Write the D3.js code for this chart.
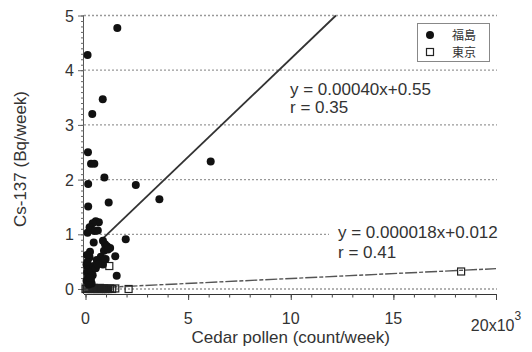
<!DOCTYPE html>
<html><head><meta charset="utf-8">
<script src="https://cdn.jsdelivr.net/npm/d3@7"></script>
<style>html,body{margin:0;padding:0;background:#fff;}svg{display:block;}</style>
</head><body>
<svg id="chart" width="532" height="352"></svg>
<script>
// ---- data (x in thousands of counts/week, y in Bq/week) ----
const fukX = [1.55,0.10,0.84,0.33,0.12,0.27,0.43,0.92,0.13,2.45,3.60,6.10,1.13,0.13,
  0.50,0.65,0.35,0.20,0.25,0.45,0.60,0.10,
  1.96,0.40,0.85,0.95,1.05,1.20,0.90,1.10,
  0.22,0.20,0.75,1.45,0.67,1.52,0.55,0.85,0.98,
  0.05,0.10,0.15,0.08,0.20,0.12,0.30,0.25,0.05,0.18,0.40,0.35,0.50,0.10,0.60,0.30,0.15,0.07,0.22];
const fukY = [4.77,4.28,3.47,3.20,2.50,2.29,2.29,2.04,1.92,1.90,1.64,2.33,1.58,1.51,
  1.24,1.22,1.20,1.13,1.08,1.06,1.07,1.03,
  0.91,0.85,0.88,0.82,0.78,0.75,0.70,0.72,
  0.68,0.58,0.59,0.60,0.50,0.24,0.53,0.45,0.55,
  0.45,0.40,0.35,0.30,0.28,0.22,0.32,0.18,0.15,0.12,0.42,0.25,0.38,0.50,0.45,0.10,0.08,0.62,0.20];
const tokX = [0.00,0.05,0.10,0.15,0.20,0.25,0.30,0.35,0.40,0.45,0.50,0.55,0.60,0.65,0.70,
  0.75,0.80,0.85,0.90,0.95,1.00,1.05,1.10,1.20,1.30,1.45,2.10,1.16,18.3,0.25];
const tokY = [0.00,0.01,0.00,0.02,0.01,0.00,0.01,0.00,0.02,0.00,0.01,0.00,0.01,0.00,0.02,
  0.00,0.01,0.00,0.01,0.00,0.00,0.01,0.00,0.01,0.00,0.01,0.00,0.42,0.32,0.21];
const fukFitX = [0.7, 12.2];
const fukFitY = [0.87, 5.0];
const tokFitX = [0, 20];
const tokFitY = [0.012, 0.372];
const xTicks = [0, 5, 10, 15, 20];
const xTickLabels = ["0", "5", "10", "15", "20x10"];
const yTicks = [0, 1, 2, 3, 4, 5];
const legendLabels = ["福島", "東京"];
const eqFuk = ["y = 0.00040x+0.55", "r = 0.35"];
const eqTok = ["y = 0.000018x+0.012", "r = 0.41"];

// ---- drawing ----
const svg = d3.select("#chart");
const font = "'Liberation Sans', Arial, sans-serif";
const x = d3.scaleLinear().domain([0, 20]).range([85.5, 496]);
const y = d3.scaleLinear().domain([0, 5]).range([289, 15.5]);
const axisY = 294, axisX = 84;

// gridlines
svg.append("g").selectAll("line").data(yTicks).join("line")
  .attr("x1", axisX).attr("x2", 497)
  .attr("y1", d => y(d)).attr("y2", d => y(d))
  .attr("stroke", "#999").attr("stroke-width", 1.3).attr("stroke-dasharray", "2,2");

// white box behind lower equation
svg.append("rect").attr("x", 329).attr("y", 222).attr("width", 172).attr("height", 40).attr("fill", "#fff");

// x axis
const gx = svg.append("g").attr("transform", `translate(0,${axisY})`);
gx.call(d3.axisBottom(x).tickValues(d3.range(0, 21, 1)).tickSize(3.5).tickFormat(""))
  .call(g => g.select(".domain").attr("d", `M${axisX},0.5H${x(20)}`));
gx.append("g").call(d3.axisBottom(x).tickValues(xTicks).tickSize(6).tickFormat(""))
  .call(g => g.select(".domain").remove());
gx.selectAll("path.domain").attr("stroke", "#333");
gx.selectAll("line").attr("stroke", "#444");

// x tick labels
const xl = svg.append("g").selectAll("text").data(xTicks).join("text")
  .attr("x", d => x(d)).attr("y", (d, i) => i === xTicks.length - 1 ? 331 : 324)
  .attr("text-anchor", "middle").attr("font-family", font).attr("font-size", 16).attr("fill", "#333")
  .text((d, i) => xTickLabels[i]);
xl.filter((d, i) => i === xTicks.length - 1).append("tspan")
  .attr("dy", -11).attr("font-size", 12).text("3");

// y axis
const gy = svg.append("g").attr("transform", `translate(${axisX},0)`);
gy.call(d3.axisLeft(y).tickValues(d3.range(0, 51).map(v => v / 10)).tickSize(3).tickFormat(""))
  .call(g => g.select(".domain").attr("d", `M-0.5,${y(5)}V${axisY}`));
gy.append("g").call(d3.axisLeft(y).tickValues(yTicks).tickSize(6).tickFormat(""))
  .call(g => g.select(".domain").remove());
gy.selectAll("path.domain").attr("stroke", "#555");
gy.selectAll("line").attr("stroke", "#666");
svg.append("g").selectAll("text").data(yTicks).join("text")
  .attr("x", 74).attr("y", d => y(d) + 6)
  .attr("text-anchor", "end").attr("font-family", font).attr("font-size", 16).attr("fill", "#333")
  .text(d => d);

// axis titles
svg.append("text").attr("x", x(10)).attr("y", 343).attr("text-anchor", "middle")
  .attr("font-family", font).attr("font-size", 17).attr("fill", "#333")
  .text("Cedar pollen (count/week)");
svg.append("text").attr("transform", "translate(26,159) rotate(-90)").attr("text-anchor", "middle")
  .attr("font-family", font).attr("font-size", 17).attr("fill", "#333")
  .text("Cs-137 (Bq/week)");

// fit lines
const line = d3.line().x(d => x(d[0])).y(d => y(d[1]));
svg.append("path").datum(tokFitX.map((v, i) => [v, tokFitY[i]])).attr("d", line)
  .attr("fill", "none").attr("stroke", "#555").attr("stroke-width", 1.4).attr("stroke-dasharray", "12,2,4,2");
svg.append("path").datum(fukFitX.map((v, i) => [v, fukFitY[i]])).attr("d", line)
  .attr("fill", "none").attr("stroke", "#333").attr("stroke-width", 1.8);

// Tokyo open squares
svg.append("g").selectAll("rect").data(tokX.map((v, i) => [v, tokY[i]])).join("rect")
  .attr("x", d => x(d[0]) - 3.5).attr("y", d => y(d[1]) - 3.5)
  .attr("width", 7).attr("height", 7)
  .attr("fill", "none").attr("stroke", "#222").attr("stroke-width", 1.2);

// Fukushima filled circles
svg.append("g").selectAll("circle").data(fukX.map((v, i) => [v, fukY[i]])).join("circle")
  .attr("cx", d => x(d[0])).attr("cy", d => y(d[1])).attr("r", 4).attr("fill", "#111");

// equations
svg.append("g").selectAll("text").data(eqFuk).join("text")
  .attr("x", 290).attr("y", (d, i) => 95 + i * 18)
  .attr("font-family", font).attr("font-size", 17).attr("fill", "#333").text(d => d);
svg.append("g").selectAll("text").data(eqTok).join("text")
  .attr("x", 338).attr("y", (d, i) => 238 + i * 20)
  .attr("font-family", font).attr("font-size", 17).attr("fill", "#333").text(d => d);

// legend
const lg = svg.append("g");
lg.append("rect").attr("x", 417.5).attr("y", 23.5).attr("width", 72).attr("height", 38)
  .attr("fill", "#fff").attr("stroke", "#888").attr("stroke-width", 1);
lg.append("circle").attr("cx", 430).attr("cy", 35).attr("r", 4).attr("fill", "#111");
lg.append("rect").attr("x", 426.5).attr("y", 48.5).attr("width", 7).attr("height", 7)
  .attr("fill", "none").attr("stroke", "#222").attr("stroke-width", 1.2);
lg.selectAll("text").data(legendLabels).join("text")
  .attr("font-family", "'Noto Sans CJK JP', sans-serif").attr("font-size", 12).attr("fill", "#333")
  .attr("x", 452).attr("y", (d, i) => 39.5 + i * 17.6)
  .text(d => d);
</script>
</body></html>
